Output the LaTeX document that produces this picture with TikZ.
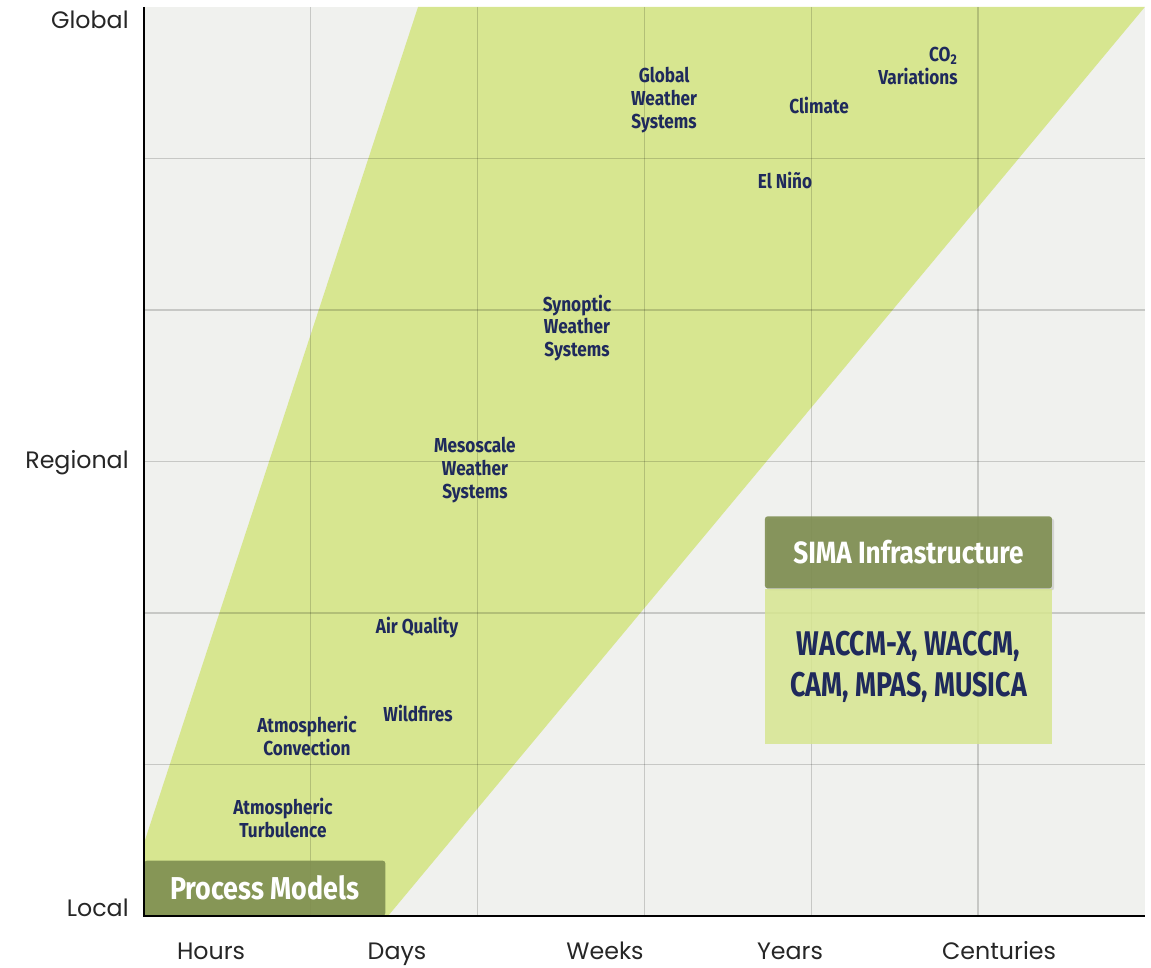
\documentclass[tikz,border=0pt]{standalone}
\usepackage{fontspec}
\usepackage{tikz}
\usetikzlibrary{positioning,calc,shadows}
\newfontfamily\axisfont{Poppins}
\newfontfamily\dinfont[FakeStretch=0.85]{Fira Sans}
\newfontfamily\dinnarrow[FakeStretch=0.78]{Fira Sans}
\definecolor{chartgrey}{RGB}{240,241,238}
\definecolor{bandgreen}{RGB}{215,230,144}
\definecolor{olivebox}{RGB}{126,142,80}
\definecolor{navytext}{RGB}{31,42,92}

\begin{document}
\begin{tikzpicture}[x=3.336cm, y=3.03cm]
	\tikzstyle{axislabel} = [font=\axisfont\fontsize{13.5}{15}\selectfont, text=black!85, inner sep=0pt]
	\tikzstyle{topic} = [font=\dinfont\bfseries\fontsize{11.5}{13}\selectfont, text=navytext, align=center, inner sep=0pt]
	\tikzstyle{gridline} = [draw=black, opacity=0.17, line width=0.7pt]
	\tikzstyle{tag} = [rectangle, rounded corners=1.5pt, fill=olivebox, fill opacity=0.9, text opacity=1, text=white, font=\dinfont\bfseries\fontsize{18}{20}\selectfont]
	\useasboundingbox (-0.863,-0.337) rectangle (6.037,6.046);

	% chart area and the green band
	\fill[chartgrey] (0,0) rectangle (6,6);
	\fill[bandgreen] (0,0) -- (0,0.48) -- (1.643,6) -- (6,6) -- (1.463,0) -- cycle;
	\foreach \i in {1,...,5} {
		\draw[gridline] (\i,0) -- (\i,6);
		\draw[gridline] (0,\i) -- (6,\i);
	}

	% boxes
	\node (process) [tag, anchor=south west, minimum width=4.82cm, minimum height=1.1cm] at (0,0) {Process Models};
	\node (sima) [tag, minimum width=5.74cm, minimum height=1.44cm, font=\dinfont\bfseries\fontsize{17.5}{19}\selectfont,
		drop shadow={shadow xshift=1.2pt, shadow yshift=-1.2pt, opacity=0.25}] at (4.583,2.40) {SIMA Infrastructure};
	\node (models) [below=0pt of sima, minimum width=5.74cm, minimum height=3.1cm, fill=bandgreen, fill opacity=0.85, text opacity=1,
		text=navytext, align=center, font=\dinnarrow\bfseries\fontsize{19.5}{23.3}\selectfont] {WACCM-X, WACCM,\\CAM, MPAS, MUSICA};

	\draw[line width=1.2pt] (0,6) -- (0,0) -- (6,0);

	% axis labels
	\node (global) [axislabel, anchor=east] at (-0.09,5.914) {Global};
	\node (regional) [axislabel, anchor=east] at (-0.09,2.99) {Regional};
	\node (local) [axislabel, anchor=east] at (-0.09,0.053) {Local};
	\node (hours) [axislabel, anchor=base] at (0.402,-0.29) {Hours};
	\node (days) [axislabel, anchor=base] at (1.517,-0.29) {Days};
	\node (weeks) [axislabel, anchor=base] at (2.764,-0.29) {Weeks};
	\node (years) [axislabel, anchor=base] at (3.873,-0.29) {Years};
	\node (centuries) [axislabel, anchor=base] at (5.126,-0.29) {Centuries};

	% phenomena
	\node (co2) [topic, anchor=east, align=right] at (4.88,5.61) {CO\textsubscript{2}\\Variations};
	\node (globalws) [topic] at (3.118,5.386) {Global\\Weather\\Systems};
	\node (climate) [topic] at (4.047,5.353) {Climate};
	\node (elnino) [topic] at (3.843,4.858) {El Niño};
	\node (synoptic) [topic] at (2.596,3.881) {Synoptic\\Weather\\Systems};
	\node (mesoscale) [topic] at (1.984,2.944) {Mesoscale\\Weather\\Systems};
	\node (airq) [topic] at (1.637,1.901) {Air Quality};
	\node (wildfires) [topic] at (1.643,1.340) {Wildfires};
	\node (convection) [topic] at (0.977,1.188) {Atmospheric\\Convection};
	\node (turbulence) [topic] at (0.833,0.647) {Atmospheric\\Turbulence};
\end{tikzpicture}
\end{document}
